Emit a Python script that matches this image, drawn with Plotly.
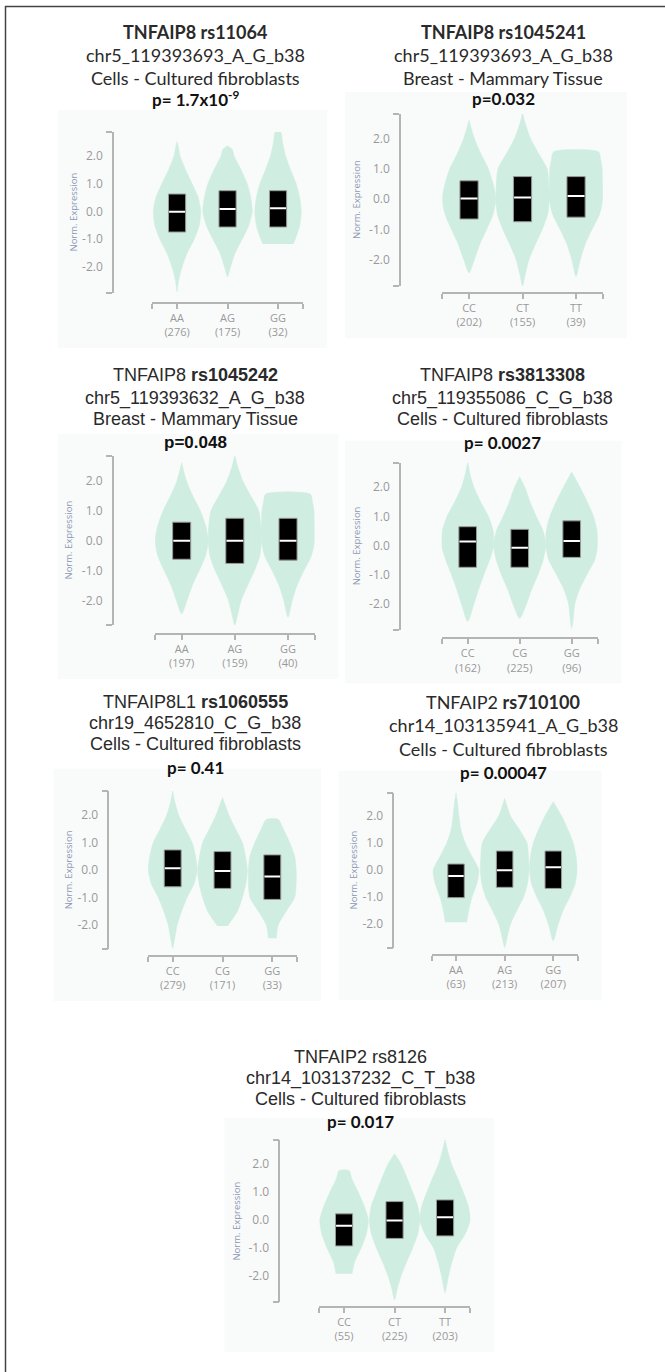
import plotly.graph_objects as go

W, H = 665, 1372

# ---------------- data ----------------
genotypes = [
    ["AA", "AG", "GG"],
    ["CC", "CT", "TT"],
    ["AA", "AG", "GG"],
    ["CC", "CG", "GG"],
    ["CC", "CG", "GG"],
    ["AA", "AG", "GG"],
    ["CC", "CT", "TT"],
]
sample_counts = [
    [276, 175, 32],
    [202, 155, 39],
    [197, 159, 40],
    [162, 225, 96],
    [279, 171, 33],
    [63, 213, 207],
    [55, 225, 203],
]

title_snp = [
    "<b>TNFAIP8 rs11064</b>",
    "<b>TNFAIP8 rs1045241</b>",
    "TNFAIP8 <b>rs1045242</b>",
    "TNFAIP8 <b>rs3813308</b>",
    "TNFAIP8L1 <b>rs1060555</b>",
    "TNFAIP2 <b>rs710100</b>",
    "TNFAIP2 rs8126",
]
title_variant = [
    "chr5_119393693_A_G_b38",
    "chr5_119393693_A_G_b38",
    "chr5_119393632_A_G_b38",
    "chr5_119355086_C_G_b38",
    "chr19_4652810_C_G_b38",
    "chr14_103135941_A_G_b38",
    "chr14_103137232_C_T_b38",
]
title_tissue = [
    "Cells - Cultured fibroblasts",
    "Breast - Mammary Tissue",
    "Breast - Mammary Tissue",
    "Cells - Cultured fibroblasts",
    "Cells - Cultured fibroblasts",
    "Cells - Cultured fibroblasts",
    "Cells - Cultured fibroblasts",
]
title_pvalue = [
    "<b>p= 1.7x10<sup>-9</sup></b>",
    "<b>p=0.032</b>",
    "<b>p=0.048</b>",
    "<b>p= 0.0027</b>",
    "<b>p= 0.41</b>",
    "<b>p= 0.00047</b>",
    "<b>p= 0.017</b>",
]

# box statistics (normalized expression)
box_q3 = [
    [0.63, 0.75, 0.75],
    [0.60, 0.74, 0.74],
    [0.62, 0.75, 0.75],
    [0.65, 0.56, 0.85],
    [0.73, 0.67, 0.55],
    [0.22, 0.70, 0.70],
    [0.22, 0.66, 0.72],
]
box_median = [
    [-0.01, 0.09, 0.12],
    [0.02, 0.05, 0.10],
    [0.00, 0.00, 0.00],
    [0.14, -0.07, 0.16],
    [0.06, -0.04, -0.24],
    [-0.22, -0.01, 0.10],
    [-0.21, -0.02, 0.10],
]
box_q1 = [
    [-0.74, -0.56, -0.56],
    [-0.66, -0.75, -0.60],
    [-0.62, -0.76, -0.65],
    [-0.74, -0.74, -0.40],
    [-0.61, -0.67, -1.07],
    [-1.02, -0.64, -0.68],
    [-0.93, -0.66, -0.57],
]

# violin outlines: (expression, half width in genotype units), bottom to top
violins_p1 = [
    [(-2.89, 0), (-2.5, 0.03), (-2.0, 0.1), (-1.5, 0.2), (-1.0, 0.34), (-0.5, 0.44), (0.0, 0.47),
     (0.5, 0.42), (1.0, 0.3), (1.5, 0.17), (2.0, 0.06), (2.3, 0.03), (2.52, 0)],
    [(-2.35, 0), (-2.0, 0.06), (-1.5, 0.15), (-1.0, 0.29), (-0.5, 0.42), (0.0, 0.49), (0.5, 0.46),
     (1.0, 0.39), (1.5, 0.27), (2.0, 0.13), (2.25, 0.09), (2.36, 0)],
    [(-1.17, 0.30), (-1.0, 0.34), (-0.5, 0.43), (0.0, 0.46), (0.5, 0.43), (1.0, 0.36), (1.5, 0.25),
     (2.0, 0.15), (2.5, 0.09), (2.88, 0.05)],
]
violins_p2 = [
    [(-2.44, 0), (-2.0, 0.1), (-1.5, 0.2), (-1.0, 0.33), (-0.5, 0.45), (0.0, 0.5), (0.5, 0.45),
     (1.0, 0.36), (1.5, 0.22), (2.0, 0.1), (2.6, 0)],
    [(-2.87, 0), (-2.5, 0.05), (-2.0, 0.12), (-1.5, 0.24), (-1.0, 0.37), (-0.5, 0.47), (0.0, 0.5),
     (0.5, 0.49), (1.0, 0.46), (1.5, 0.3), (2.0, 0.15), (2.5, 0.05), (2.84, 0)],
    [(-2.56, 0), (-2.0, 0.08), (-1.5, 0.17), (-1.0, 0.3), (-0.5, 0.44), (0.0, 0.5), (0.5, 0.5),
     (1.0, 0.49), (1.3, 0.46), (1.56, 0.42)],
]
violins_p3 = [
    [(-2.45, 0), (-2.0, 0.1), (-1.5, 0.2), (-1.0, 0.33), (-0.5, 0.45), (0.0, 0.5), (0.5, 0.45),
     (1.0, 0.35), (1.5, 0.21), (2.0, 0.09), (2.61, 0)],
    [(-2.82, 0), (-2.5, 0.05), (-2.0, 0.12), (-1.5, 0.24), (-1.0, 0.37), (-0.5, 0.47), (0.0, 0.5),
     (0.5, 0.49), (1.0, 0.45), (1.5, 0.3), (2.0, 0.15), (2.5, 0.05), (2.87, 0)],
    [(-2.56, 0), (-2.0, 0.08), (-1.5, 0.17), (-1.0, 0.3), (-0.5, 0.44), (0.0, 0.5), (0.5, 0.5),
     (1.0, 0.49), (1.3, 0.46), (1.56, 0.42)],
]
violins_p4 = [
    [(-2.6, 0), (-2.0, 0.12), (-1.5, 0.21), (-1.0, 0.31), (-0.5, 0.42), (0.0, 0.5), (0.5, 0.49),
     (1.0, 0.4), (1.5, 0.25), (2.0, 0.12), (2.5, 0.04), (2.88, 0)],
    [(-2.49, 0), (-2.0, 0.13), (-1.5, 0.23), (-1.0, 0.35), (-0.5, 0.45), (0.0, 0.5), (0.5, 0.45),
     (1.0, 0.32), (1.5, 0.2), (2.0, 0.1), (2.36, 0)],
    [(-2.83, 0), (-2.5, 0.03), (-2.0, 0.06), (-1.5, 0.15), (-1.0, 0.29), (-0.5, 0.44), (0.0, 0.5),
     (0.5, 0.49), (1.0, 0.42), (1.5, 0.3), (2.0, 0.16), (2.53, 0)],
]
violins_p5 = [
    [(-2.85, 0), (-2.5, 0.04), (-2.0, 0.09), (-1.5, 0.18), (-1.0, 0.29), (-0.5, 0.43), (0.0, 0.49),
     (0.5, 0.46), (1.0, 0.39), (1.5, 0.25), (2.0, 0.12), (2.5, 0.04), (2.88, 0)],
    [(-2.04, 0.1), (-1.5, 0.3), (-1.0, 0.4), (-0.5, 0.47), (0.0, 0.5), (0.5, 0.46), (1.0, 0.4),
     (1.5, 0.26), (2.0, 0.13), (2.64, 0)],
    [(-2.48, 0.08), (-2.0, 0.12), (-1.5, 0.28), (-1.0, 0.45), (-0.5, 0.48), (0.0, 0.48), (0.5, 0.45),
     (1.0, 0.35), (1.5, 0.22), (1.84, 0.12)],
]
violins_p6 = [
    [(-1.93, 0.22), (-1.5, 0.26), (-1.0, 0.33), (-0.5, 0.43), (0.0, 0.47), (0.5, 0.33), (1.0, 0.19),
     (1.5, 0.1), (2.0, 0.06), (2.5, 0.03), (2.85, 0)],
    [(-2.86, 0), (-2.5, 0.05), (-2.0, 0.12), (-1.5, 0.25), (-1.0, 0.39), (-0.5, 0.47), (0.0, 0.5),
     (0.5, 0.49), (1.0, 0.46), (1.5, 0.3), (2.0, 0.12), (2.65, 0)],
    [(-2.61, 0), (-2.0, 0.1), (-1.5, 0.2), (-1.0, 0.34), (-0.5, 0.45), (0.0, 0.49), (0.5, 0.47),
     (1.0, 0.41), (1.5, 0.3), (2.0, 0.17), (2.52, 0)],
]
violins_p7 = [
    [(-1.93, 0.16), (-1.5, 0.21), (-1.0, 0.34), (-0.5, 0.44), (0.0, 0.48), (0.5, 0.4), (1.0, 0.28),
     (1.5, 0.15), (1.77, 0.1)],
    [(-2.87, 0), (-2.5, 0.05), (-2.0, 0.13), (-1.5, 0.24), (-1.0, 0.36), (-0.5, 0.46), (0.0, 0.5),
     (0.5, 0.46), (1.0, 0.36), (1.5, 0.25), (2.0, 0.13), (2.37, 0)],
    [(-2.6, 0), (-2.0, 0.07), (-1.5, 0.14), (-1.0, 0.23), (-0.5, 0.4), (0.0, 0.5), (0.5, 0.46),
     (1.0, 0.36), (1.5, 0.25), (2.0, 0.13), (2.5, 0.05), (2.89, 0)],
]
violin_outlines = [violins_p1, violins_p2, violins_p3, violins_p4, violins_p5, violins_p6, violins_p7]

y_tick_values = [-2, -1, 0, 1, 2]
y_tick_labels = ["-2.0", "-1.0", "0.0", "1.0", "2.0"]

# ---------------- panel placement (pixels) ----------------
# y-axis x, y-axis top/bottom, value range, x band edges, x axis line,
# heading centre x and the four heading line centres, y-title x
panels = [
    dict(yx=113, yt=132, yb=293, lo=-2.937, hi=2.865, x0=151.8, x1=303.3, xl=303,
         tx=195, ty=[32, 55, 78, 99], atx=73),
    dict(yx=400, yt=114, yb=286, lo=-2.871, hi=2.805, x0=442.3, x1=602.8, xl=293,
         tx=503, ty=[32, 55, 78, 99], atx=356),
    dict(yx=112.7, yt=456, yb=625, lo=-2.819, hi=2.833, x0=155.1, x1=314.6, xl=634,
         tx=195, ty=[375, 398, 419, 442], atx=68),
    dict(yx=400, yt=462.7, yb=630, lo=-2.887, hi=2.842, x0=441.7, x1=597.7, xl=638.3,
         tx=502.5, ty=[375, 398, 419, 442], atx=356),
    dict(yx=108.3, yt=790.7, yb=949.3, lo=-2.884, hi=2.884, x0=147.8, x1=297.2, xl=956,
         tx=195, ty=[702, 723, 744, 767], atx=68.3),
    dict(yx=393.3, yt=792.7, yb=947.7, lo=-2.867, hi=2.852, x0=431.7, x1=577.6, xl=955,
         tx=503.3, ty=[702, 725, 749, 772], atx=353.3),
    dict(yx=279.3, yt=1140, yb=1301.7, lo=-2.928, hi=2.867, x0=318.8, x1=470.3, xl=1307,
         tx=360.8, ty=[1057, 1078, 1099, 1121], atx=236.7),
]

# heading fonts: Calibri-like (Lato) or Arial-like (Liberation Sans)
CAL, ARI = "Lato", "Liberation Sans"
title_fonts = [
    [CAL, CAL, CAL, CAL],
    [CAL, CAL, CAL, CAL],
    [ARI, ARI, ARI, ARI],
    [ARI, ARI, ARI, CAL],
    [ARI, ARI, ARI, CAL],
    [CAL, CAL, CAL, CAL],
    [ARI, ARI, ARI, CAL],
]

VIOLIN = "#cfeee1"
AXIS = "#b4b4b4"
TICKTXT = "#999999"
BG = "#f9fbfb"
BOX_W = 0.34


def px_x(v):
    return v / W


def px_y(v):
    return 1 - v / H


fig = go.Figure()
shapes = []
annotations = []
layout = dict(
    width=W, height=H, margin=dict(l=0, r=0, t=0, b=0),
    paper_bgcolor="white", plot_bgcolor="rgba(0,0,0,0)",
    showlegend=False,
)

for i, p in enumerate(panels):
    k = "" if i == 0 else str(i + 1)
    xa, ya = "x" + k, "y" + k

    # light panel background
    shapes.append(dict(type="rect", xref="paper", yref="paper", layer="below",
                       x0=px_x(p["yx"] - 55), x1=px_x(p["x1"] + 24),
                       y0=px_y(p["xl"] + 45), y1=px_y(p["yt"] - 22),
                       fillcolor=BG, line=dict(width=0)))

    # violins
    for g, outline in enumerate(violin_outlines[i]):
        ys = [pt[0] for pt in outline]
        hw = [pt[1] for pt in outline]
        vx = [g + w for w in hw] + [g - w for w in reversed(hw)]
        vy = ys + list(reversed(ys))
        fig.add_trace(go.Scatter(x=vx, y=vy, xaxis=xa, yaxis=ya, mode="lines",
                                 fill="toself", fillcolor=VIOLIN,
                                 line=dict(color=VIOLIN, width=0.5, shape="spline", smoothing=0.7),
                                 hoverinfo="skip"))

    # interquartile boxes with median line
    for g in range(len(genotypes[i])):
        q1, q3, med = box_q1[i][g], box_q3[i][g], box_median[i][g]
        left, right = g - BOX_W / 2, g + BOX_W / 2
        fig.add_trace(go.Scatter(x=[left, right, right, left, left], y=[q1, q1, q3, q3, q1],
                                 xaxis=xa, yaxis=ya, mode="lines", fill="toself",
                                 fillcolor="black", line=dict(color="#9a9a9a", width=1),
                                 hoverinfo="skip"))
        fig.add_trace(go.Scatter(x=[left + 0.012, right - 0.012], y=[med, med],
                                 xaxis=xa, yaxis=ya, mode="lines",
                                 line=dict(color="white", width=2), hoverinfo="skip"))

    gx = list(range(len(genotypes[i])))
    ticktext = [f"{gname}<br>({n})" for gname, n in zip(genotypes[i], sample_counts[i])]
    layout["xaxis" + k] = dict(
        domain=[px_x(p["x0"]), px_x(p["x1"])], range=[-0.5, 2.5],
        anchor="free", position=px_y(p["xl"]),
        showline=True, linecolor=AXIS, linewidth=1.5,
        tickmode="array", tickvals=gx, ticktext=ticktext,
        ticks="outside", ticklen=5, tickcolor=AXIS, tickwidth=1.5,
        tickfont=dict(family="Open Sans", size=11, color=TICKTXT),
        minor=dict(tickmode="array", tickvals=[-0.4999, 2.4999], ticks="outside",
                   ticklen=5, tickcolor=AXIS, tickwidth=1.5),
        showgrid=False, zeroline=False, fixedrange=True,
    )
    layout["yaxis" + k] = dict(
        domain=[px_y(p["yb"]), px_y(p["yt"])], range=[p["lo"], p["hi"]],
        anchor="free", position=px_x(p["yx"]),
        showline=True, linecolor=AXIS, linewidth=1.5,
        tickmode="array", tickvals=y_tick_values, ticktext=y_tick_labels,
        ticks="", ticklabelstandoff=7,
        tickfont=dict(family="Open Sans", size=12, color=TICKTXT),
        minor=dict(tickmode="array", tickvals=[p["lo"] + 1e-4, p["hi"] - 1e-4], ticks="outside",
                   ticklen=6, tickcolor=AXIS, tickwidth=1.5),
        showgrid=False, zeroline=False, fixedrange=True,
    )

    # y axis title
    annotations.append(dict(text="Norm. Expression", textangle=-90, showarrow=False,
                            xref="paper", yref="paper", x=px_x(p["atx"]),
                            y=px_y((p["yt"] + p["yb"]) / 2),
                            xanchor="center", yanchor="middle",
                            font=dict(family="Open Sans", size=9.5, color="#8c99b3")))

    # four-line heading
    lines = [title_snp[i], title_variant[i], title_tissue[i], title_pvalue[i]]
    sizes = [18, 18, 18, 17]
    for j, txt in enumerate(lines):
        annotations.append(dict(text=txt, showarrow=False, xref="paper", yref="paper",
                                x=px_x(p["tx"]), y=px_y(p["ty"][j]),
                                xanchor="center", yanchor="middle",
                                font=dict(family=title_fonts[i][j], size=sizes[j],
                                          color="#111" if j == 3 else "#2a2a2a")))

# outer frame (left and top edges)
shapes.append(dict(type="line", xref="paper", yref="paper", x0=px_x(5.5), x1=px_x(5.5),
                   y0=0, y1=px_y(6), line=dict(color="#444", width=1.5)))
shapes.append(dict(type="line", xref="paper", yref="paper", x0=px_x(5), x1=1,
                   y0=px_y(6.5), y1=px_y(6.5), line=dict(color="#444", width=1.5)))

layout["shapes"] = shapes
layout["annotations"] = annotations
fig.update_layout(**layout)

fig.write_html("out.html")
